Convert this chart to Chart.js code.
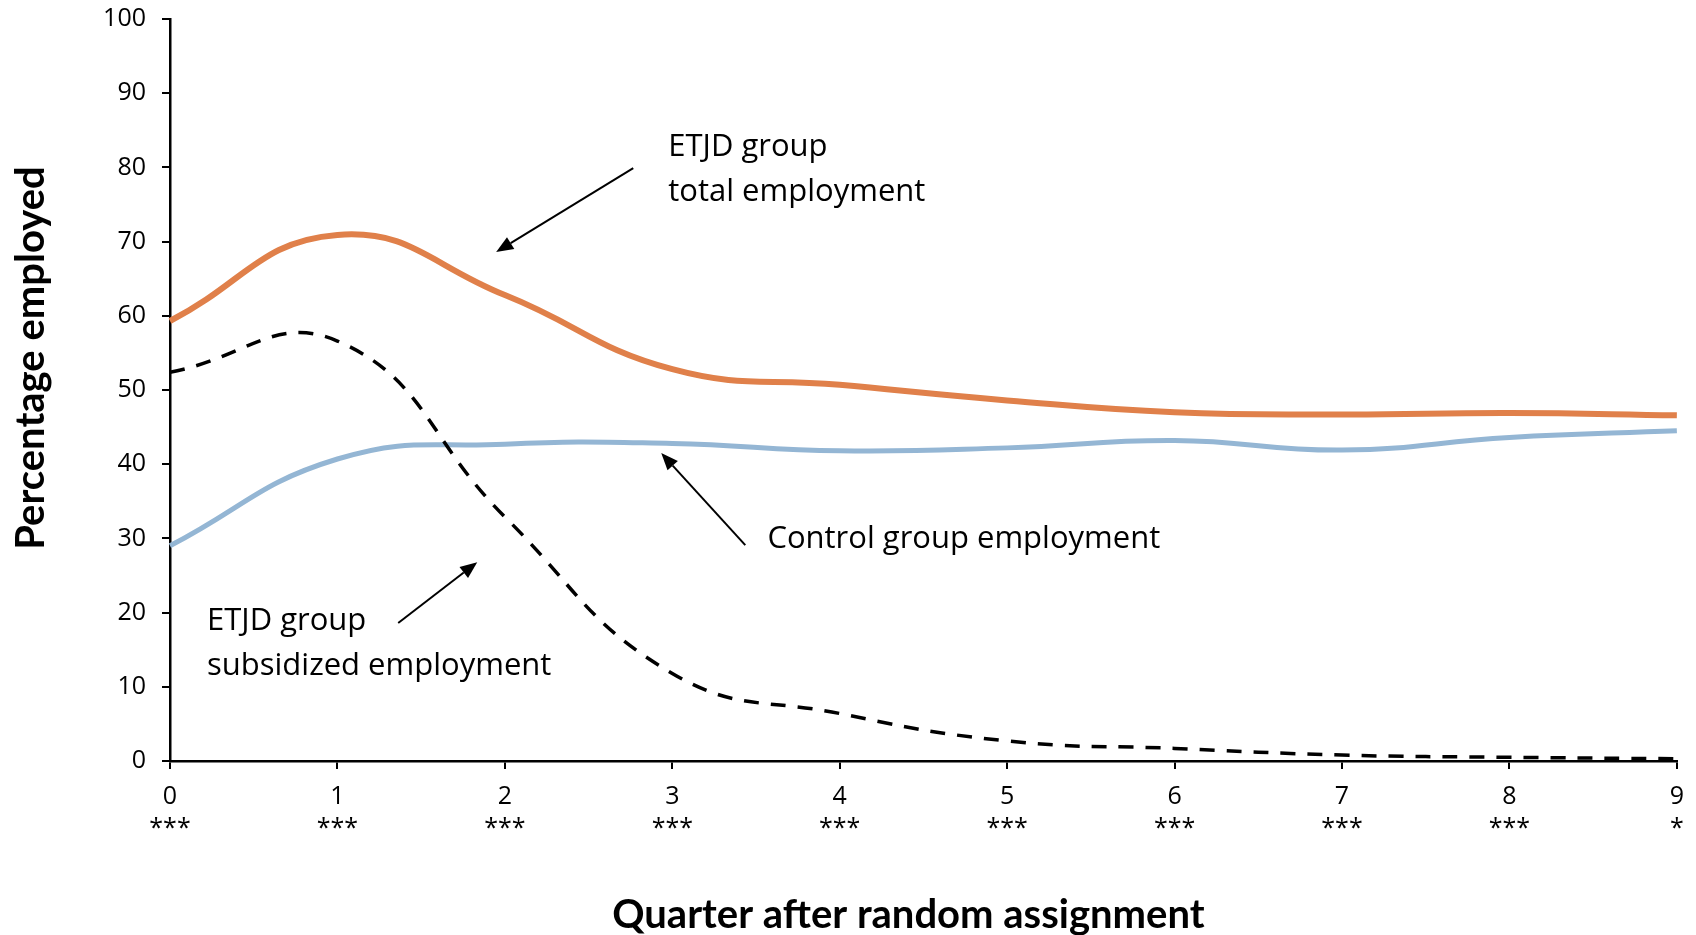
<!DOCTYPE html>
<html>
<head>
<meta charset="utf-8">
<title>Employment by quarter after random assignment</title>
<script src="https://cdn.jsdelivr.net/npm/chart.js@4.4.1/dist/chart.umd.min.js"></script>
<style>
  html, body { margin: 0; padding: 0; background: #ffffff; }
  #wrap { width: 1696px; height: 935px; position: relative; }
</style>
</head>
<body>
<div id="wrap"><canvas id="chart" width="1696" height="935"></canvas></div>
<script>
// Quarters after random assignment and significance stars under each
const quarters = ['0', '1', '2', '3', '4', '5', '6', '7', '8', '9'];
const significance = ['***', '***', '***', '***', '***', '***', '***', '***', '***', '*'];

// Percentage employed per quarter
const etjdTotal      = [59.3, 70.9, 62.8, 52.8, 50.7, 48.6, 47.0, 46.7, 46.9, 46.6];
const controlGroup   = [29.0, 40.7, 42.7, 42.8, 41.8, 42.2, 43.2, 41.9, 43.6, 44.5];
const etjdSubsidized = [52.4, 56.6, 32.9, 11.8, 6.4, 2.7, 1.7, 0.8, 0.5, 0.3];

// Y axis range and step
const yMin = 0, yMax = 100, yStep = 10;

// Call-out labels (left edge / first baseline, in data units)
const calloutLabels = [
  { lines: ['ETJD group', 'total employment'], x: 2.976, y: 81.5 },
  { lines: ['Control group employment'], x: 3.568, y: 28.75 },
  { lines: ['ETJD group', 'subsidized employment'], x: 0.221, y: 17.65 }
];

// Call-out arrows: tail -> head, in data units
const calloutArrows = [
  { from: [2.767, 79.9], to: [1.948, 68.6] },
  { from: [3.436, 29.1], to: [2.934, 41.5] },
  { from: [1.363, 18.6], to: [1.835, 26.8] }
];

const xTitle = 'Quarter after random assignment';
const yTitle = 'Percentage employed';

const BODY_FONT = '"Open Sans", "DejaVu Sans", sans-serif';
const TITLE_FONT = 'Lato, "Open Sans", sans-serif';

// Draws call-out text, arrows and the axis titles
const calloutPlugin = {
  id: 'callouts',
  afterDatasetsDraw(chart) {
    const ctx = chart.ctx;
    const xs = chart.scales.x, ys = chart.scales.y;
    const area = chart.chartArea;
    ctx.save();

    // arrows
    ctx.strokeStyle = '#000';
    ctx.fillStyle = '#000';
    ctx.lineWidth = 2;
    calloutArrows.forEach(a => {
      const x1 = xs.getPixelForValue(a.from[0]), y1 = ys.getPixelForValue(a.from[1]);
      const x2 = xs.getPixelForValue(a.to[0]), y2 = ys.getPixelForValue(a.to[1]);
      const ang = Math.atan2(y2 - y1, x2 - x1);
      const headLen = 17, headHalf = 7;
      const bx = x2 - headLen * Math.cos(ang), by = y2 - headLen * Math.sin(ang);
      ctx.beginPath();
      ctx.moveTo(x1, y1);
      ctx.lineTo(bx, by);
      ctx.stroke();
      ctx.beginPath();
      ctx.moveTo(x2, y2);
      ctx.lineTo(bx + headHalf * Math.sin(ang), by - headHalf * Math.cos(ang));
      ctx.lineTo(bx - headHalf * Math.sin(ang), by + headHalf * Math.cos(ang));
      ctx.closePath();
      ctx.fill();
    });

    // call-out text
    ctx.font = '31px ' + BODY_FONT;
    ctx.textAlign = 'left';
    ctx.textBaseline = 'alphabetic';
    calloutLabels.forEach(l => {
      const x = xs.getPixelForValue(l.x), y = ys.getPixelForValue(l.y);
      l.lines.forEach((t, i) => ctx.fillText(t, x, y + i * 45));
    });

    // axis titles
    ctx.font = 'bold 40px ' + TITLE_FONT;
    ctx.textAlign = 'center';
    ctx.fillText(xTitle, (area.left + area.right) / 2 - 15, 928);
    ctx.translate(44, (area.top + area.bottom) / 2 - 32);
    ctx.rotate(-Math.PI / 2);
    ctx.fillText(yTitle, 0, 0);
    ctx.restore();
  }
};

new Chart(document.getElementById('chart'), {
  type: 'line',
  data: {
    labels: quarters.map((q, i) => [q, significance[i]]),
    datasets: [
      {
        label: 'ETJD group subsidized employment',
        data: etjdSubsidized,
        borderColor: '#000000',
        borderWidth: 3.5,
        borderDash: [15, 12],
        borderCapStyle: 'butt'
      },
      {
        label: 'Control group employment',
        data: controlGroup,
        borderColor: '#94b6d4',
        borderWidth: 5
      },
      {
        label: 'ETJD group total employment',
        data: etjdTotal,
        borderColor: '#e0804a',
        borderWidth: 6
      }
    ]
  },
  options: {
    responsive: false,
    animation: false,
    devicePixelRatio: 1,
    layout: { padding: { top: 19, right: 17, left: 0, bottom: 0 } },
    elements: {
      point: { radius: 0, hoverRadius: 0 },
      line: { tension: 0.45, fill: false }
    },
    plugins: {
      legend: { display: false },
      tooltip: { enabled: false },
      title: { display: false }
    },
    scales: {
      x: {
        offset: false,
        grid: { drawOnChartArea: false, drawTicks: true, tickLength: 8, color: '#000', lineWidth: 2 },
        border: { display: true, color: '#000', width: 2.5 },
        ticks: {
          color: '#000',
          padding: 12,
          maxRotation: 0,
          autoSkip: false,
          font: { family: BODY_FONT, size: 25, lineHeight: 1.27 }
        },
        afterFit(scale) { scale.height = 174; }
      },
      y: {
        min: yMin,
        max: yMax,
        grid: { drawOnChartArea: false, drawTicks: true, tickLength: 8, color: '#000', lineWidth: 2 },
        border: { display: true, color: '#000', width: 2.5 },
        ticks: {
          stepSize: yStep,
          color: '#000',
          padding: 16,
          font: { family: BODY_FONT, size: 25 }
        },
        afterFit(scale) {
          scale.width = 170;
          scale.paddingTop = 12;
          scale.paddingBottom = 12;
        }
      }
    }
  },
  plugins: [calloutPlugin]
});
</script>
</body>
</html>
